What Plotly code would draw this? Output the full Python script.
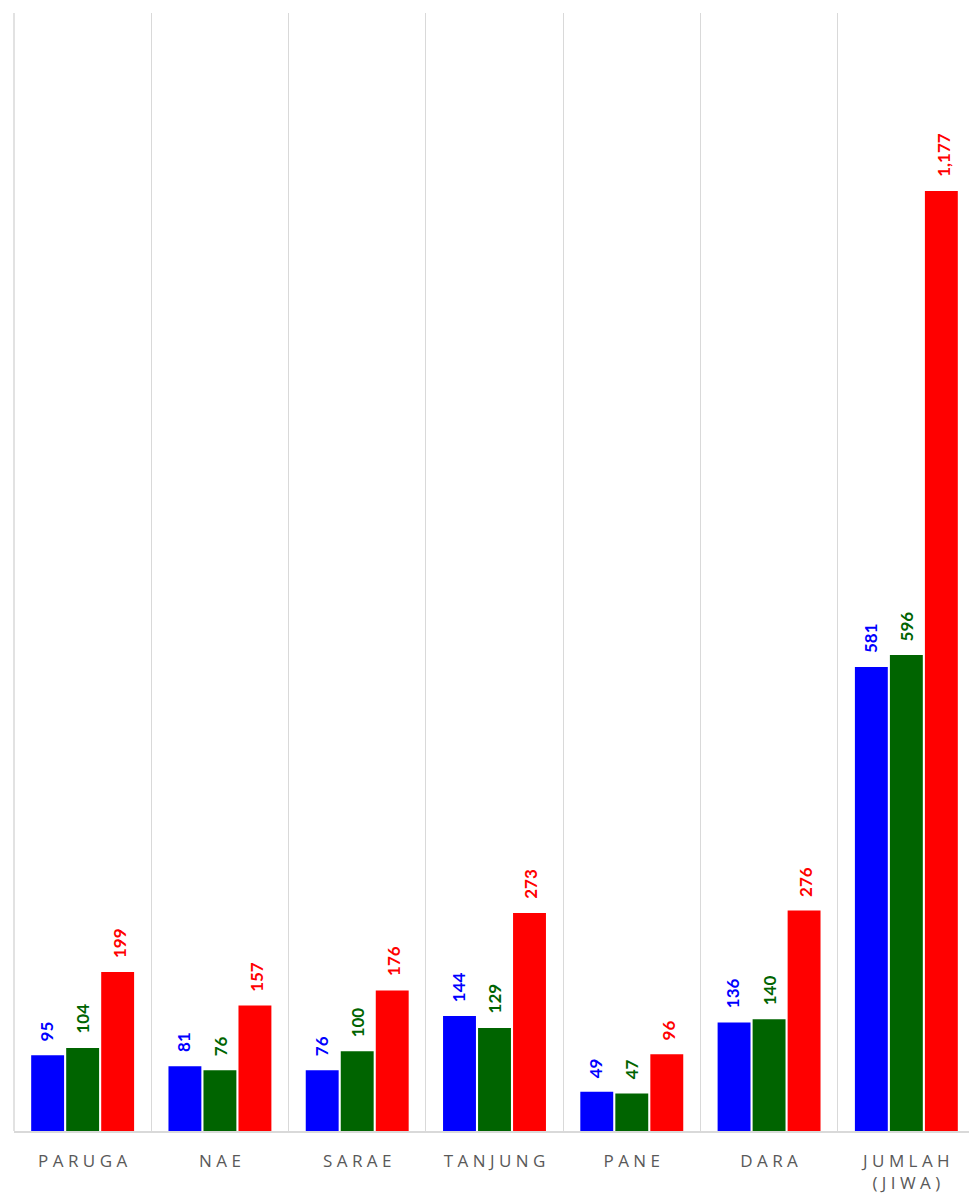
import plotly.graph_objects as go

categories = ["PARUGA", "NAE", "SARAE", "TANJUNG", "PANE", "DARA", "JUMLAH (JIWA)"]
series_blue = [95, 81, 76, 144, 49, 136, 581]
series_green = [104, 76, 100, 129, 47, 140, 596]
series_red = [199, 157, 176, 273, 96, 276, 1177]

def spaced(s):
    parts = s.split(" ")
    out = [(" ".join(list(p))) for p in parts]
    return "<br>".join(out)

tick_text = [spaced(c) for c in categories]

series = [(series_blue, "#0000FF", "blue"),
          (series_green, "#006400", "green"),
          (series_red, "#FF0000", "red")]

fig = go.Figure()
for vals, col, name in series:
    fig.add_trace(go.Bar(
        x=categories, y=vals, name=name,
        marker=dict(color=col, line=dict(width=0)),
    ))

annotations = []
for i, (vals, col, name) in enumerate(series):
    for c, v in zip(categories, vals):
        annotations.append(dict(
            x=c, y=v, xref="x", yref="y",
            text=f"<b>{v:,}</b>", showarrow=False,
            textangle=-90, xanchor="center", yanchor="bottom",
            xshift=(i - 1) * 36.3, yshift=12,
            font=dict(color=col, size=17, family="Lato"),
        ))

# outer border gridlines of the plot area
shapes = [
    dict(type="line", xref="paper", yref="paper", x0=0, x1=0, y0=0, y1=1,
         line=dict(color="#D9D9D9", width=1.5)),
    dict(type="line", xref="paper", yref="paper", x0=0.999, x1=0.999, y0=0, y1=1,
         line=dict(color="#D9D9D9", width=1.5)),
]

# page body has an 8px default margin, so size figure to fit the window
fig.update_layout(
    width=969, height=1189,
    margin=dict(l=6, r=2, t=5, b=66, autoexpand=False),
    paper_bgcolor="white", plot_bgcolor="white",
    barmode="group", bargap=0.235, bargroupgap=0.06,
    showlegend=False,
    annotations=annotations,
    shapes=shapes,
    xaxis=dict(
        tickmode="array", tickvals=categories, ticktext=tick_text,
        tickson="boundaries", showgrid=True, gridcolor="#D9D9D9", gridwidth=1,
        ticks="", showline=True, linecolor="#D9D9D9", linewidth=1.5,
        tickfont=dict(family="Open Sans", size=17, color="#595959"),
        ticklabelstandoff=14,
        tickangle=0,
    ),
    yaxis=dict(range=[0, 1400], visible=False, showgrid=False, zeroline=False),
)

fig.write_html("out.html")
